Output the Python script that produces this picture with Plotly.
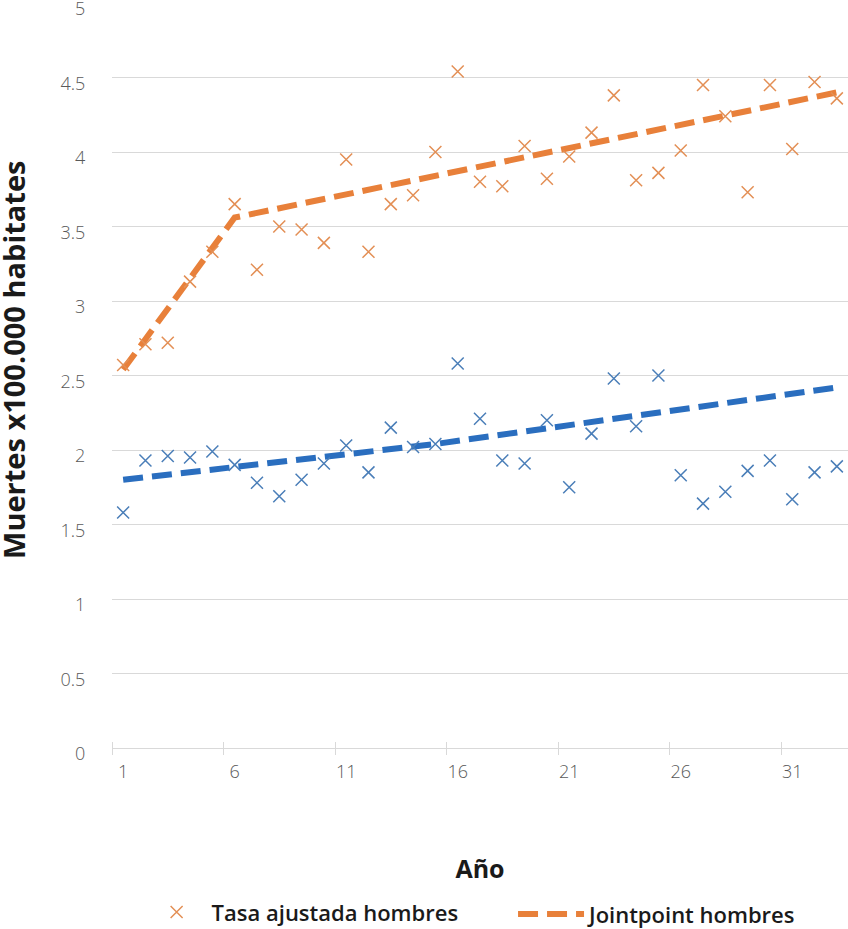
import plotly.graph_objects as go

years = list(range(1, 34))

tasa_hombres = [2.57, 2.71, 2.72, 3.13, 3.33, 3.65, 3.21, 3.50, 3.48, 3.39,
                3.95, 3.33, 3.65, 3.71, 4.00, 4.54, 3.80, 3.77, 4.04, 3.82,
                3.97, 4.13, 4.38, 3.81, 3.86, 4.01, 4.45, 4.24, 3.73, 4.45,
                4.02, 4.47, 4.36]

tasa_azul = [1.58, 1.93, 1.96, 1.95, 1.99, 1.90, 1.78, 1.69, 1.80, 1.91,
             2.03, 1.85, 2.15, 2.02, 2.04, 2.58, 2.21, 1.93, 1.91, 2.20,
             1.75, 2.11, 2.48, 2.16, 2.50, 1.83, 1.64, 1.72, 1.86, 1.93,
             1.67, 1.85, 1.89]

joint_hombres_x = [1, 6, 33]
joint_hombres_y = [2.54, 3.56, 4.40]

joint_azul_x = [1, 15, 33]
joint_azul_y = [1.80, 2.04, 2.42]

x_tickvals = [1, 6, 11, 16, 21, 26, 31]
x_boundaries = [0.5, 5.5, 10.5, 15.5, 20.5, 25.5, 30.5]
y_tickvals = [0, 0.5, 1, 1.5, 2, 2.5, 3, 3.5, 4, 4.5, 5]
y_ticktext = ["0", "0.5", "1", "1.5", "2", "2.5", "3", "3.5", "4", "4.5", "5"]

ORANGE_LINE = "#E8803A"
ORANGE_MARK = "#E38F55"
BLUE_LINE = "#2A6EBF"
BLUE_MARK = "#4A7EB8"
GRID = "#d9d9d9"
TICKFONT = dict(family="Open Sans", size=18, color="#595959", weight=300)
LEGFONT = dict(family="Open Sans", size=22, color="#1a1a1a", weight=600)

fig = go.Figure()

fig.add_trace(go.Scatter(
    x=joint_azul_x, y=joint_azul_y, mode="lines", showlegend=False,
    line=dict(color=BLUE_LINE, width=6, dash="20px,9px")))
fig.add_trace(go.Scatter(
    x=joint_hombres_x, y=joint_hombres_y, mode="lines",
    name="Jointpoint hombres", legend="legend2",
    line=dict(color=ORANGE_LINE, width=6, dash="20px,9px")))
fig.add_trace(go.Scatter(
    x=years, y=tasa_azul, mode="markers", showlegend=False,
    marker=dict(symbol="x-thin", size=12, line=dict(color=BLUE_MARK, width=1.5))))
fig.add_trace(go.Scatter(
    x=years, y=tasa_hombres, mode="markers", name="Tasa ajustada hombres",
    legend="legend",
    marker=dict(symbol="x-thin", size=12, line=dict(color=ORANGE_MARK, width=1.5))))
# invisible helper trace so the overlay axis (outer half of the crossing ticks) is drawn
fig.add_trace(go.Scatter(x=[years[0]], y=[tasa_azul[0]], xaxis="x2", mode="markers",
                         marker=dict(opacity=0), showlegend=False, hoverinfo="skip"))

fig.update_layout(
    width=848, height=929,
    margin=dict(l=112, r=0, t=3, b=181),
    paper_bgcolor="white", plot_bgcolor="white",
    font=dict(family="Open Sans", color="#595959"),
    legend=dict(orientation="h", xref="container", yref="container",
                x=0.167, xanchor="left", y=0.018, yanchor="middle",
                font=LEGFONT, itemwidth=60),
    legend2=dict(orientation="h", xref="container", yref="container",
                 x=0.605, xanchor="left", y=0.016, yanchor="middle",
                 font=LEGFONT, itemwidth=66),
    xaxis=dict(range=[0.5, 33.5], tickmode="array", tickvals=x_tickvals,
               showgrid=False, zeroline=False, showline=True, linecolor=GRID,
               linewidth=1, ticks="outside", ticklen=7, tickcolor="rgba(0,0,0,0)",
               tickfont=TICKFONT, automargin=False,
               minor=dict(tickmode="array", tickvals=x_boundaries, ticks="inside",
                          ticklen=6, tickcolor=GRID, showgrid=False),
               title=dict(text="Año", standoff=78,
                          font=dict(family="Open Sans", size=25, color="#1a1a1a", weight=700))),
    xaxis2=dict(range=[0.5, 33.5], overlaying="x", anchor="y", side="bottom",
                tickmode="array", tickvals=x_boundaries, ticks="outside", ticklen=6,
                tickcolor=GRID, showticklabels=False, showgrid=False, zeroline=False,
                showline=False, automargin=False),
    yaxis=dict(range=[0, 5], tickmode="array", tickvals=y_tickvals, ticktext=y_ticktext,
               showgrid=True, gridcolor=GRID, gridwidth=1, zeroline=False,
               ticks="outside", ticklen=22, tickcolor="rgba(0,0,0,0)",
               tickfont=TICKFONT, automargin=False, ticklabelshift=6,
               ticklabeloverflow="allow"),
    annotations=[dict(text="Muertes x100.000 habitates", textangle=-90,
                      xref="paper", yref="paper", x=-0.133, y=0.521,
                      xanchor="center", yanchor="middle", showarrow=False,
                      font=dict(family="Open Sans", size=29, color="#1a1a1a", weight=700))],
)

fig.write_html("out.html", config={"displayModeBar": False},
               post_script="document.body.style.margin='0px';")
